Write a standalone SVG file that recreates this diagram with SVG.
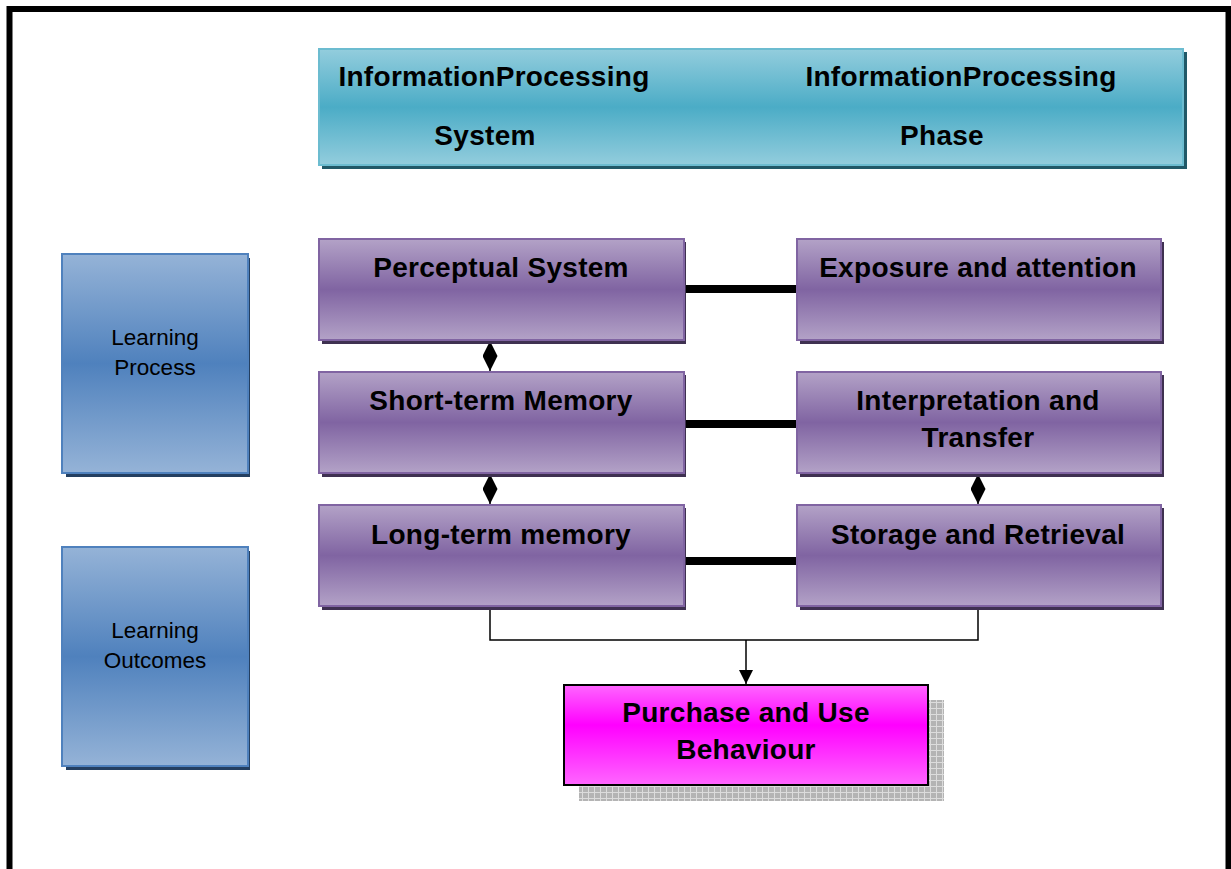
<svg xmlns="http://www.w3.org/2000/svg" width="1231" height="869" viewBox="0 0 1231 869">
<style>
.bt{font-family:"Liberation Sans",Arial,sans-serif;font-weight:bold;font-size:28px;letter-spacing:0.3px;fill:#000;text-anchor:middle}
.rt{font-family:"Liberation Sans",Arial,sans-serif;font-size:22.5px;fill:#000;text-anchor:middle}
.pb{fill:url(#gp);stroke:#8064a2;stroke-width:2}
.ps{fill:#3f3151}
.bb{fill:url(#gb);stroke:#4f81bd;stroke-width:2}
.bs{fill:#243f60}
.hl{stroke:#000;stroke-width:8}
.tl{stroke:#000;stroke-width:1.5;fill:none}
.da{stroke:#000;stroke-width:1.5;marker-start:url(#ma);marker-end:url(#ma)}
</style>
<defs>
<linearGradient id="gp" x1="0" y1="0" x2="0" y2="1">
<stop offset="0" stop-color="#b3a2c7"/><stop offset="0.5" stop-color="#8064a2"/><stop offset="1" stop-color="#b3a2c7"/>
</linearGradient>
<linearGradient id="gb" x1="0" y1="0" x2="0" y2="1">
<stop offset="0" stop-color="#95b3d7"/><stop offset="0.5" stop-color="#4f81bd"/><stop offset="1" stop-color="#95b3d7"/>
</linearGradient>
<linearGradient id="gt" x1="0" y1="0" x2="0" y2="1">
<stop offset="0" stop-color="#93cddd"/><stop offset="0.5" stop-color="#4bacc6"/><stop offset="1" stop-color="#93cddd"/>
</linearGradient>
<linearGradient id="gm" x1="0" y1="0" x2="0" y2="1">
<stop offset="0" stop-color="#ff66ff"/><stop offset="0.4" stop-color="#ff00ff"/><stop offset="1" stop-color="#ff66ff"/>
</linearGradient>
<pattern id="chk" width="6" height="6" patternUnits="userSpaceOnUse">
<rect width="6" height="6" fill="#b4b4b4"/>
<path d="M0 0.5H6M0.5 0V6" stroke="#dcdcdc" stroke-width="1"/>
</pattern>
<marker id="ma" viewBox="0 0 10 10" refX="10" refY="5" markerWidth="15" markerHeight="15" markerUnits="userSpaceOnUse" orient="auto-start-reverse">
<path d="M0 0L10 5L0 10Z" fill="#000"/>
</marker>
<marker id="mv" viewBox="0 0 10 10" refX="10" refY="5" markerWidth="14" markerHeight="15" markerUnits="userSpaceOnUse" orient="auto">
<path d="M0 0L10 5L0 10Z" fill="#000"/>
</marker>
</defs>
<rect width="1231" height="869" fill="#fff"/>
<rect x="9.5" y="9" width="1219" height="900" fill="none" stroke="#000" stroke-width="6"/>

<g id="connectors">
<line class="hl" x1="684" y1="289" x2="796" y2="289"/>
<line class="hl" x1="684" y1="424" x2="796" y2="424"/>
<line class="hl" x1="684" y1="561" x2="796" y2="561"/>
<line class="da" x1="490" y1="341" x2="490" y2="371"/>
<line class="da" x1="490" y1="474" x2="490" y2="504"/>
<line class="da" x1="978" y1="474" x2="978" y2="504"/>
<path class="tl" d="M490 606V640H978V606"/>
<line class="tl" x1="746" y1="640" x2="746" y2="684" marker-end="url(#mv)"/>
</g>

<g id="header">
<rect x="322" y="52" width="865" height="117" fill="#215968"/>
<rect x="319" y="49" width="864" height="116" fill="url(#gt)" stroke="#6cbcd0" stroke-width="2"/>
<text class="bt" x="494" y="86">InformationProcessing</text>
<text class="bt" x="485" y="145">System</text>
<text class="bt" x="961" y="86">InformationProcessing</text>
<text class="bt" x="942" y="145">Phase</text>
</g>

<g id="learning-process">
<rect class="bs" x="66" y="258" width="184" height="219"/>
<rect class="bb" x="62" y="254" width="186" height="219"/>
<text class="rt" x="155" y="345">Learning</text>
<text class="rt" x="155" y="375">Process</text>
</g>
<g id="learning-outcomes">
<rect class="bs" x="66" y="551" width="184" height="219"/>
<rect class="bb" x="62" y="547" width="186" height="219"/>
<text class="rt" x="155" y="638">Learning</text>
<text class="rt" x="155" y="668">Outcomes</text>
</g>

<g id="perceptual-system">
<rect class="ps" x="322" y="242" width="364" height="102"/>
<rect class="pb" x="319" y="239" width="365" height="101"/>
<text class="bt" x="501" y="277">Perceptual System</text>
</g>
<g id="exposure-attention">
<rect class="ps" x="800" y="242" width="364" height="102"/>
<rect class="pb" x="797" y="239" width="364" height="101"/>
<text class="bt" x="978" y="277">Exposure and attention</text>
</g>
<g id="short-term-memory">
<rect class="ps" x="322" y="375" width="364" height="102"/>
<rect class="pb" x="319" y="372" width="365" height="101"/>
<text class="bt" x="501" y="410">Short-term Memory</text>
</g>
<g id="interpretation-transfer">
<rect class="ps" x="800" y="375" width="364" height="102"/>
<rect class="pb" x="797" y="372" width="364" height="101"/>
<text class="bt" x="978" y="410">Interpretation and</text>
<text class="bt" x="978" y="447">Transfer</text>
</g>
<g id="long-term-memory">
<rect class="ps" x="322" y="508" width="364" height="102"/>
<rect class="pb" x="319" y="505" width="365" height="101"/>
<text class="bt" x="501" y="544">Long-term memory</text>
</g>
<g id="storage-retrieval">
<rect class="ps" x="800" y="508" width="364" height="102"/>
<rect class="pb" x="797" y="505" width="364" height="101"/>
<text class="bt" x="978" y="544">Storage and Retrieval</text>
</g>

<g id="purchase-use">
<rect x="579" y="700" width="365" height="101" fill="url(#chk)"/>
<rect x="564" y="685" width="364" height="100" fill="url(#gm)" stroke="#000" stroke-width="2"/>
<text class="bt" x="746" y="722">Purchase and Use</text>
<text class="bt" x="746" y="759">Behaviour</text>
</g>
</svg>
